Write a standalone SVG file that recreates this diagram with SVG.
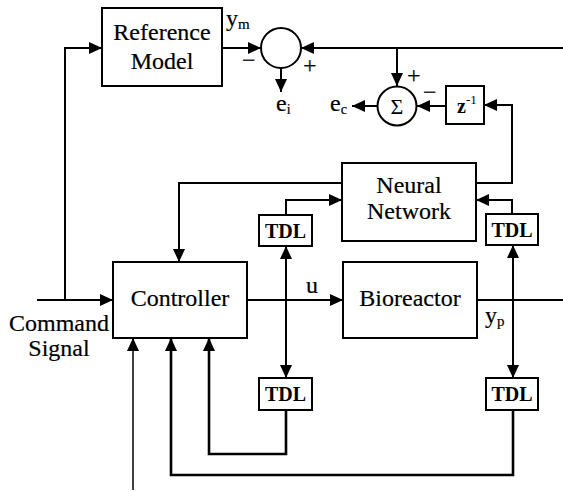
<svg xmlns="http://www.w3.org/2000/svg" width="563" height="492" viewBox="0 0 563 492">
<style>
text{font-family:"Liberation Serif","Times New Roman",serif;fill:#000}
.lbl{font-size:24px;stroke:#000;stroke-width:0.2}
.tdl{font-size:20px;font-weight:bold}
.box{fill:#fff;stroke:#000;stroke-width:2}
.ln{fill:none;stroke:#000;stroke-width:2}
.thick{stroke-width:2.6}
.thin{stroke-width:1.5}
</style>
<defs>
<marker id="a" viewBox="0 0 13 12" refX="13" refY="6" markerWidth="13" markerHeight="12" markerUnits="userSpaceOnUse" orient="auto-start-reverse">
<path d="M0,0 L13,6 L0,12 z" fill="#000"/>
</marker>
</defs>
<g id="connectors">
<path class="ln" d="M37,300 H113" marker-end="url(#a)"/>
<path class="ln" d="M65,300 V48 H102" marker-end="url(#a)"/>
<path class="ln" d="M222,48 H261" marker-end="url(#a)"/>
<path class="ln" d="M281,68 V92" marker-end="url(#a)"/>
<path class="ln" d="M563,48 H301" marker-end="url(#a)"/>
<path class="ln" d="M397,48 V86" marker-end="url(#a)"/>
<path class="ln" d="M378,106 H352" marker-end="url(#a)"/>
<path class="ln" d="M446,106 H417" marker-end="url(#a)"/>
<path class="ln" d="M476,183 H512 V105 H484" marker-end="url(#a)"/>
<path class="ln" d="M342,183 H179 V262" marker-end="url(#a)"/>
<path class="ln" d="M286,215 V200 H342" marker-end="url(#a)"/>
<path class="ln" d="M512,214 V200 H476" marker-end="url(#a)"/>
<path class="ln" d="M247,300 H343" marker-end="url(#a)"/>
<path class="ln" d="M477,300 H563"/>
<path class="ln" d="M286,246 V378" marker-start="url(#a)" marker-end="url(#a)"/>
<path class="ln" d="M513,245 V378" marker-start="url(#a)" marker-end="url(#a)"/>
<path class="ln thick" d="M286,410 V454 H209 V338" marker-end="url(#a)"/>
<path class="ln thick" d="M513,410 V475 H171 V338" marker-end="url(#a)"/>
<path class="ln thin" d="M133,490 V338" marker-end="url(#a)"/>
</g>
<g id="reference-model">
<rect class="box" x="102" y="8" width="120" height="78"/>
<text class="lbl" x="162" y="40" text-anchor="middle">Reference</text>
<text class="lbl" x="162" y="69" text-anchor="middle">Model</text>
</g>
<g id="sum1">
<circle class="box" cx="281" cy="48" r="20"/>
</g>
<g id="sum2">
<circle class="box" cx="397" cy="106" r="19.5"/>
<text x="397" y="114" font-size="22" text-anchor="middle">Σ</text>
</g>
<g id="delay">
<rect class="box" x="446" y="86" width="38" height="38"/>
<text x="457" y="113" font-size="20" font-weight="bold">z<tspan font-size="13" font-weight="normal" dy="-9">-1</tspan></text>
</g>
<g id="neural-network">
<rect class="box" x="342" y="163" width="134" height="78"/>
<text class="lbl" x="409" y="193" text-anchor="middle">Neural</text>
<text class="lbl" x="409" y="219" text-anchor="middle">Network</text>
</g>
<g id="tdl1">
<rect class="box" x="259" y="215" width="53" height="31"/>
<text class="tdl" x="285.5" y="238" text-anchor="middle">TDL</text>
</g>
<g id="tdl2">
<rect class="box" x="486" y="214" width="52" height="31"/>
<text class="tdl" x="512" y="237" text-anchor="middle">TDL</text>
</g>
<g id="controller">
<rect class="box" x="113" y="262" width="134" height="76"/>
<text class="lbl" x="180" y="306" text-anchor="middle">Controller</text>
</g>
<g id="bioreactor">
<rect class="box" x="343" y="262" width="134" height="76"/>
<text class="lbl" x="410" y="306" text-anchor="middle">Bioreactor</text>
</g>
<g id="tdl3">
<rect class="box" x="259" y="378" width="53" height="32"/>
<text class="tdl" x="285.5" y="401" text-anchor="middle">TDL</text>
</g>
<g id="tdl4">
<rect class="box" x="486" y="378" width="52" height="32"/>
<text class="tdl" x="512" y="401" text-anchor="middle">TDL</text>
</g>
<g id="labels">
<text class="lbl" x="59" y="331" text-anchor="middle">Command</text>
<text class="lbl" x="59" y="356" text-anchor="middle">Signal</text>
<text class="lbl" x="226" y="26">y<tspan font-size="15" dy="3">m</tspan></text>
<text class="lbl" x="242" y="68">−</text>
<text class="lbl" x="303" y="73">+</text>
<text class="lbl" x="276" y="111">e<tspan font-size="14" dy="3">i</tspan></text>
<text class="lbl" x="407" y="83">+</text>
<text class="lbl" x="330" y="111">e<tspan font-size="14" dy="3">c</tspan></text>
<text class="lbl" x="423" y="100">−</text>
<text class="lbl" x="312" y="293" text-anchor="middle">u</text>
<text class="lbl" x="485" y="323">y<tspan font-size="15" dy="3">p</tspan></text>
</g>
</svg>
